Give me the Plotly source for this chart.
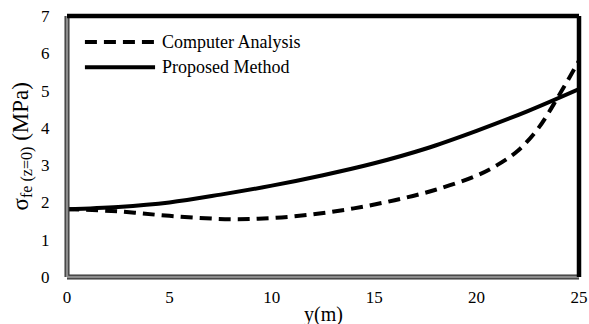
import plotly.graph_objects as go

# Stress distribution along the span
y_prop = [0, 2.5, 5, 7.5, 10, 12.5, 15, 17.5, 20, 22.5, 25]
s_prop = [1.82, 1.88, 2.00, 2.21, 2.45, 2.73, 3.05, 3.44, 3.92, 4.45, 5.04]

y_comp = [0, 2.5, 5, 8, 10, 12, 14, 16, 18, 20, 21, 22, 23, 24, 25]
s_comp = [1.82, 1.76, 1.64, 1.55, 1.58, 1.68, 1.84, 2.06, 2.34, 2.72, 3.00, 3.38, 3.98, 4.85, 5.80]

x_ticks = [0, 5, 10, 15, 20, 25]
y_ticks = [0, 1, 2, 3, 4, 5, 6, 7]
series_names = ["Computer Analysis", "Proposed Method"]

FONT = "Liberation Serif"

fig = go.Figure()
fig.add_trace(go.Scatter(x=y_comp, y=s_comp, mode="lines", name=series_names[0],
                         line=dict(color="black", width=4, dash="12px,7px", shape="spline")))
fig.add_trace(go.Scatter(x=y_prop, y=s_prop, mode="lines", name=series_names[1],
                         line=dict(color="black", width=4, shape="spline")))

# Frame: grey left/bottom edges with dark outline, black top/right edges
shapes = [
    dict(type="line", xref="paper", yref="paper", x0=0, x1=1, y0=0, y1=0,
         line=dict(color="#333333", width=5)),
    dict(type="line", xref="paper", yref="paper", x0=0, x1=0, y0=0, y1=1,
         line=dict(color="#333333", width=5)),
    dict(type="line", xref="paper", yref="paper", x0=0, x1=1, y0=0, y1=0,
         line=dict(color="#8c8c8c", width=2.5)),
    dict(type="line", xref="paper", yref="paper", x0=0, x1=0, y0=0, y1=1,
         line=dict(color="#8c8c8c", width=2.5)),
    dict(type="line", xref="paper", yref="paper", x0=0, x1=1, y0=1, y1=1,
         line=dict(color="black", width=4.5)),
    dict(type="line", xref="paper", yref="paper", x0=1, x1=1, y0=0, y1=1,
         line=dict(color="black", width=4.5)),
]

# Legend keys drawn inside the plot area
leg_y = [0.900, 0.804]
for i, name in enumerate(series_names):
    shapes.append(dict(type="line", xref="paper", yref="paper",
                       x0=0.035, x1=0.172, y0=leg_y[i], y1=leg_y[i],
                       line=dict(color="black", width=4,
                                 dash="12px,7px" if i == 0 else "solid")))

annotations = [
    dict(text=name, xref="paper", yref="paper", x=0.181, y=leg_y[i],
         xanchor="left", yanchor="middle", showarrow=False,
         font=dict(family=FONT, size=18, color="black"))
    for i, name in enumerate(series_names)
]
# x-axis title sits just under the tick-label row
annotations.append(dict(text="y(m)", xref="paper", yref="paper", x=0.5, y=0,
                        xanchor="center", yanchor="middle", yshift=-37,
                        showarrow=False,
                        font=dict(family=FONT, size=20, color="black")))
# y-axis title, rotated
annotations.append(dict(text="σ<sub>fe (z=0)</sub> (MPa)", xref="paper", yref="paper",
                        x=0, y=0.5, xanchor="center", yanchor="middle",
                        xshift=-45, textangle=-90, showarrow=False,
                        font=dict(family=FONT, size=23, color="black")))

fig.update_layout(
    width=589, height=324,
    margin=dict(l=67, r=10, t=16, b=47, autoexpand=False),
    paper_bgcolor="white", plot_bgcolor="white",
    showlegend=False,
    font=dict(family=FONT, size=17, color="black"),
    shapes=shapes,
    annotations=annotations,
    xaxis=dict(range=[0, 25], tickvals=x_ticks, showgrid=False, zeroline=False,
               showline=False, ticks="outside", ticklen=5,
               tickcolor="rgba(0,0,0,0)", automargin=False,
               tickfont=dict(family=FONT, size=17, color="black")),
    yaxis=dict(range=[0, 7], tickvals=y_ticks, showgrid=False, zeroline=False,
               showline=False, ticks="outside", ticklen=13,
               tickcolor="rgba(0,0,0,0)", automargin=False,
               tickfont=dict(family=FONT, size=17, color="black")),
)

fig.write_html("out.html")
